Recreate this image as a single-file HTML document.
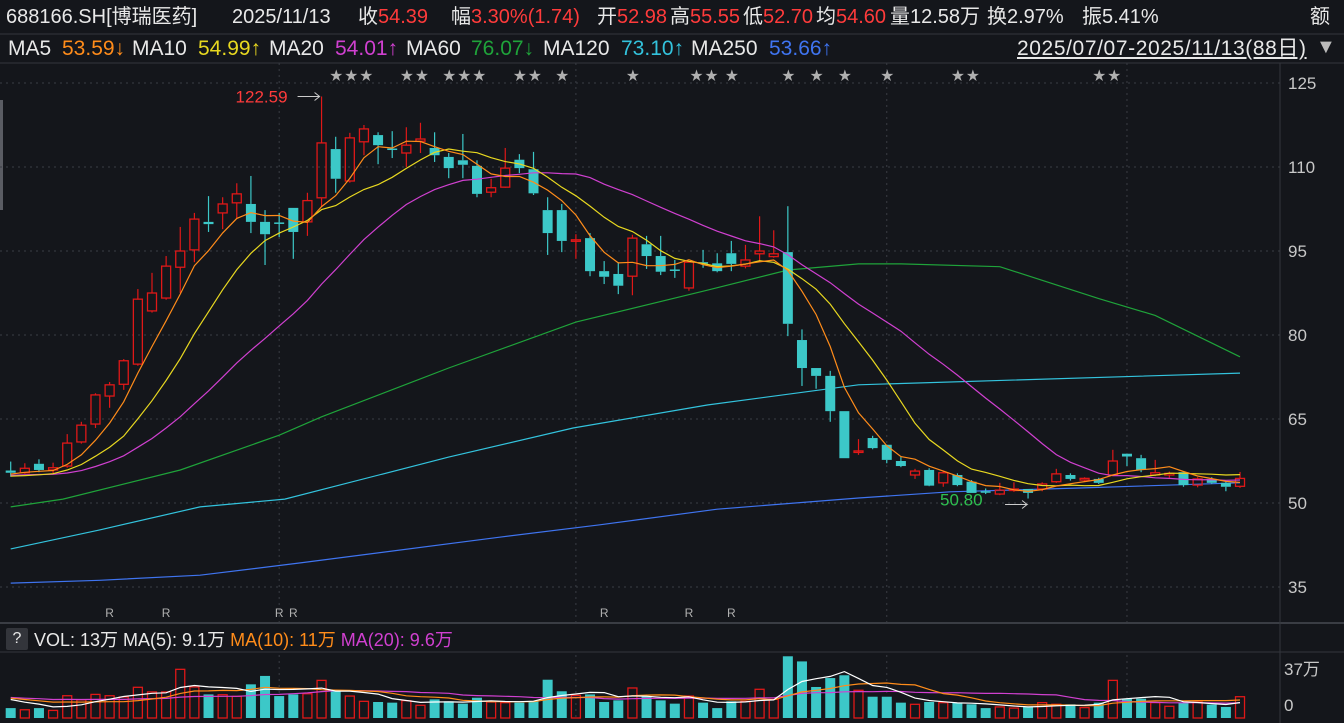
<!DOCTYPE html>
<html><head><meta charset="utf-8">
<style>
html,body{margin:0;padding:0;background:#14161b;overflow:hidden}
body{width:1344px;height:723px;position:relative;font-family:"Liberation Sans","Noto Sans CJK SC",sans-serif;color:#e8e8e8}
.t{position:absolute;white-space:nowrap;font-size:21px;line-height:22px}
.h{font-size:20px}
.r{color:#ff3b3b}
svg{position:absolute;left:0;top:0}
</style></head>
<body>
<svg id="chart" width="1344" height="723"></svg>
<div class="t h" style="left:6px;top:6px">688166.SH[博瑞医药]</div>
<div class="t h" style="left:232px;top:6px">2025/11/13</div>
<div class="t h" style="left:358px;top:6px">收<span class="r">54.39</span></div>
<div class="t h" style="left:451px;top:6px">幅<span class="r">3.30%(1.74)</span></div>
<div class="t h" style="left:597px;top:6px">开<span class="r">52.98</span></div>
<div class="t h" style="left:670px;top:6px">高<span class="r">55.55</span></div>
<div class="t h" style="left:743px;top:6px">低<span class="r">52.70</span></div>
<div class="t h" style="left:816px;top:6px">均<span class="r">54.60</span></div>
<div class="t h" style="left:890px;top:6px">量<span>12.58万</span></div>
<div class="t h" style="left:987px;top:6px">换<span>2.97%</span></div>
<div class="t h" style="left:1082px;top:6px">振<span>5.41%</span></div>
<div class="t h" style="left:1310px;top:6px">额</div>

<div class="t" style="left:8px;top:38px">MA5</div>
<div class="t" style="left:62px;top:38px;color:#ff8c1a">53.59↓</div>
<div class="t" style="left:132px;top:38px">MA10</div>
<div class="t" style="left:198px;top:38px;color:#e8d820">54.99↑</div>
<div class="t" style="left:269px;top:38px">MA20</div>
<div class="t" style="left:335px;top:38px;color:#d040d0">54.01↑</div>
<div class="t" style="left:406px;top:38px">MA60</div>
<div class="t" style="left:471px;top:38px;color:#1fa33a">76.07↓</div>
<div class="t" style="left:543px;top:38px">MA120</div>
<div class="t" style="left:621px;top:38px;color:#33c3dd">73.10↑</div>
<div class="t" style="left:691px;top:38px">MA250</div>
<div class="t" style="left:769px;top:38px;color:#3f74f0">53.66↑</div>
<div class="t" style="left:1017px;top:38px;font-size:21px;letter-spacing:0.6px;text-decoration:underline">2025/07/07-2025/11/13(88日)</div>
<div class="t" style="left:1316px;top:36px;font-size:20px;color:#bbb">▼</div>

<div class="t" style="left:6px;top:628px;width:22px;height:22px;background:#33353b;text-align:center;border-radius:2px;font-size:16px;line-height:22px">?</div>
<div class="t" style="left:34px;top:629px;font-size:18px">VOL: 13万 MA(5): 9.1万 <span style="color:#ff8c1a">MA(10): 11万</span> <span style="color:#d040d0">MA(20): 9.6万</span></div>

<script>
const opens  =[55.8,55.4,57.0,55.9,56.6,60.9,64.1,69.1,71.2,74.8,84.3,86.6,92.1,95.2,100.2,101.8,103.6,103.4,100.2,100.1,102.7,100.2,104.5,113.2,107.5,114.5,115.7,113.3,112.5,114.6,113.4,111.8,111.2,110.2,105.5,106.4,111.3,109.6,102.3,102.3,96.9,97.3,91.4,90.9,90.5,96.2,94.1,91.7,88.4,93.0,92.8,94.6,92.3,94.5,94.0,94.8,79.1,74.1,72.7,66.4,59.2,61.6,60.4,57.5,55.0,55.9,53.6,55.0,53.8,52.1,51.6,52.4,52.5,52.5,53.8,55.0,54.1,54.3,55.0,58.8,58.0,55.0,55.0,55.5,53.2,54.3,53.6,52.98];
const highs  =[57.4,57.1,57.8,57.2,62.3,64.5,69.6,71.6,75.7,88.2,91.1,94.1,99.3,101.8,104.8,104.6,107.1,108.4,102.3,101.8,102.7,105.4,122.59,115.4,116.1,117.5,116.2,116.4,117.1,117.9,116.2,112.5,115.9,111.2,107.9,113.4,112.3,112.7,104.6,103.4,98.0,98.2,93.2,93.0,97.9,97.7,97.7,93.4,93.0,95.2,94.6,96.8,96.1,101.2,98.7,103.0,81.0,74.1,73.6,66.4,61.4,62.0,60.4,58.2,56.1,56.2,55.8,55.3,54.1,52.6,53.6,53.7,52.5,53.7,56.1,55.3,54.6,54.5,59.5,58.8,58.6,57.7,55.6,55.7,54.6,54.6,53.8,55.55];
const lows   =[54.7,55.2,55.5,55.3,56.3,60.6,63.4,67.0,70.2,74.5,84.0,86.3,87.5,93.0,98.4,98.9,100.9,98.2,92.5,97.5,93.6,97.7,102.9,105.4,107.2,112.1,110.5,111.6,110.0,112.5,110.9,108.0,108.0,104.6,104.6,106.3,108.9,105.0,94.3,94.8,93.6,90.5,89.1,87.3,87.1,91.8,90.7,90.2,87.9,92.0,91.2,91.4,91.9,93.0,93.8,79.8,70.9,70.4,64.5,58.0,58.6,59.6,57.1,56.4,54.3,53.0,52.9,53.0,51.8,51.6,51.4,52.0,50.80,52.1,53.6,54.0,53.8,53.4,54.9,56.6,55.5,54.8,54.5,52.9,52.8,53.4,52.1,52.70];
const closes =[55.4,56.2,55.9,56.3,60.7,63.9,69.3,71.1,75.4,86.4,87.5,92.3,95.0,100.7,99.8,103.4,105.2,100.2,98.0,99.9,98.4,104.0,114.3,107.9,115.2,116.8,113.9,113.2,113.9,115.0,112.1,109.8,110.4,105.2,106.3,109.8,109.8,105.3,98.2,96.8,97.0,91.4,90.4,88.8,97.3,94.1,91.3,91.5,93.0,92.9,91.4,92.7,93.4,95.0,94.5,82.0,74.1,72.7,66.4,58.0,59.3,59.8,57.7,56.6,55.7,53.1,55.4,53.2,51.8,52.0,52.3,52.5,51.8,53.4,55.2,54.3,54.4,53.6,57.5,58.3,55.9,55.4,55.3,53.2,54.3,53.6,52.9,54.39];
const prevCloses=[54.2,54.8,55.5,56.0,55.3,54.6,54.0,54.4,55.8,56.2,55.0,54.6,54.3,54.1,54.0,54.6,55.0,55.6,55.2];
const volumes=[6,5,6,4.6,13.5,11,14.3,13.5,12.7,18.6,15.8,15.8,29.5,18.8,14.3,14.1,13.1,20.4,25.5,13.3,14.3,14.7,22.8,16.4,13.3,10.1,9.7,9.3,10.5,7.7,11.3,10.1,8.7,12.3,9.7,9.3,9.3,10.3,23.2,16.2,13.7,14.3,9.7,10.7,18.2,13.3,10.7,8.7,13.3,9.3,6,10.1,10.1,17.4,11.3,37.4,34.3,18.8,24.2,25.9,16.8,12.9,12.9,9.3,8.3,9.7,9.3,9.3,8.3,6,6.7,6,6.7,9.3,8.3,8.3,6.3,9.3,22.8,11.7,11.7,9.3,7.1,9.3,9.7,8.1,6.7,12.9];
const prevVols=[13,12,14,13,12,13,14,12,13,12,13,14,12,13,12,13,12,13,12];
const ma60Days=[0,3.7,12,19,22,31,40,49.3,55,60,63,70,77,81,87];
const ma60Vals=[49.3,50.7,55.9,62.1,65.4,74.1,82.3,88.0,91.6,92.7,92.7,92.2,86.5,83.5,76.1];
const ma120Days=[0,6.3,13.4,19.4,31,39.8,49.3,60,87];
const ma120Vals=[41.8,45.2,49.3,50.7,58.2,63.4,67.5,71.1,73.2];
const ma250Days=[0,6.3,13.4,20.5,34.6,41.7,50,60,66.5,75.9,87];
const ma250Vals=[35.7,36.2,37.1,39.3,43.9,46.1,48.9,50.9,52.0,52.7,53.6];
const priceTicks=[125,110,95,80,65,50,35];
const volTickLabels=['37万','0'];
const starMarks=[[23,'★★★'],[28,'★★'],[31,'★★★'],[36,'★★'],[39,'★'],[44,'★'],[48.5,'★★'],[51,'★'],[55,'★'],[57,'★'],[59,'★'],[62,'★'],[67,'★★'],[77,'★★']];
const rMarks=[7,11,19,20,42,48,51];

const NS='http://www.w3.org/2000/svg';
const svg=document.getElementById('chart');
const X0=10.7, STEP=14.13;
const xAt=i=>X0+i*STEP;
const yP=v=>83+(125-v)*5.6;
const VB=718, VS=1.65;
const yV=v=>VB-v*VS;
function mk(tag,attrs,parent){const e=document.createElementNS(NS,tag);for(const k in attrs)e.setAttribute(k,attrs[k]);(parent||svg).appendChild(e);return e;}

let e;
e=mk('line',{x1:0,y1:34,x2:1344,y2:34,stroke:'#33363d'});


e=mk('line',{x1:0,y1:63,x2:1344,y2:63,stroke:'#33363d'});


e=mk('line',{x1:0,y1:623,x2:1344,y2:623,stroke:'#3a3d44','stroke-width':2});


e=mk('line',{x1:0,y1:652,x2:1344,y2:652,stroke:'#33363d'});


e=mk('line',{x1:1280,y1:63,x2:1280,y2:723,stroke:'#33363d'});


e=mk('rect',{x:0,y:100,width:3,height:110,fill:'#5a5c63'});



priceTicks.forEach(v=>{
  const g=mk('line',{x1:0,x2:1280,y1:yP(v),y2:yP(v),stroke:'#3a3d44','stroke-dasharray':'2,4'});
  
  
  const t=mk('text',{x:1288,y:yP(v)+6,fill:'#c8c8c8','font-size':17});
  t.textContent=v;
  
  
});
[19,40,62,79].forEach(i=>{
  const g=mk('line',{x1:xAt(i),x2:xAt(i),y1:63,y2:622,stroke:'#3a3d44','stroke-dasharray':'2,4'});
  
  
  const g2=mk('line',{x1:xAt(i),x2:xAt(i),y1:655,y2:720,stroke:'#3a3d44','stroke-dasharray':'2,4'});
  
  
});

function ma(arr,prev,n){const all=prev.concat(arr);const off=prev.length;return arr.map((_,i)=>{let s=0;for(let k=0;k<n;k++)s+=all[off+i-k];return s/n;});}
function line(vals,yf,color,name,w){
  const p=vals.map((v,i)=>xAt(i).toFixed(1)+','+yf(v).toFixed(1)).join(' ');
  const l=mk('polyline',{points:p,fill:'none',stroke:color,'stroke-width':w||1.2});
  
  
}
function sparse(days,vals,color,name){
  const p=days.map((d,i)=>xAt(d).toFixed(1)+','+yP(vals[i]).toFixed(1)).join(' ');
  const l=mk('polyline',{points:p,fill:'none',stroke:color,'stroke-width':1.2});
  
  
}
sparse(ma250Days,ma250Vals,'#3f74f0','ma250-line');
sparse(ma120Days,ma120Vals,'#33c3dd','ma120-line');
sparse(ma60Days,ma60Vals,'#1fa33a','ma60-line');

const RED='#e01818', CY='#3cc8c8';
closes.forEach((c,i)=>{
  const o=opens[i],h=highs[i],l=lows[i],x=xAt(i);
  const up=c>=o, col=up?RED:CY;
  const g=mk('g',{});
  
  
  const top=yP(Math.max(o,c)), bot=yP(Math.min(o,c));
  mk('line',{x1:x,x2:x,y1:yP(h),y2:top,stroke:col,'stroke-width':1.2},g);
  mk('line',{x1:x,x2:x,y1:bot,y2:yP(l),stroke:col,'stroke-width':1.2},g);
  const bh=Math.max(bot-top,1.5);
  if(up) mk('rect',{x:x-4.5,y:top,width:9,height:bh,fill:'none',stroke:col,'stroke-width':1.3},g);
  else mk('rect',{x:x-5,y:top,width:10,height:bh,fill:col},g);
});
line(ma(closes,prevCloses,20),yP,'#d040d0','ma20-line');
line(ma(closes,prevCloses,10),yP,'#e8d820','ma10-line');
line(ma(closes,prevCloses,5),yP,'#ff8c1a','ma5-line');

const hiIdx=highs.indexOf(Math.max(...highs)), loIdx=lows.indexOf(Math.min(...lows));
e=mk('text',{x:xAt(hiIdx)-86,y:yP(highs[hiIdx])+6,fill:'#ff3b3b','font-size':17});
e.textContent=highs[hiIdx].toFixed(2);


e=mk('path',{d:`M${xAt(hiIdx)-24},${yP(highs[hiIdx])} h22 m-5,-4 l5,4 l-5,4`,stroke:'#ccc',fill:'none'});


e=mk('text',{x:xAt(loIdx)-88,y:yP(lows[loIdx])+7,fill:'#2ec050','font-size':17});
e.textContent=lows[loIdx].toFixed(2);


e=mk('path',{d:`M${xAt(loIdx)-23},${yP(lows[loIdx])+6} h22 l-5,-4 m5,4 l-5,4`,stroke:'#ccc',fill:'none'});



starMarks.forEach(s=>{
  const t=mk('text',{x:xAt(s[0])-6,y:80,fill:'#b0b0b0','font-size':13,'letter-spacing':'2'});
  t.textContent=s[1];
  
  
});
rMarks.forEach(i=>{
  const t=mk('text',{x:xAt(i),y:617,fill:'#b0b0b0','font-size':12,'text-anchor':'middle'});
  t.textContent='R';
  
  
});

volumes.forEach((v,i)=>{
  const up=closes[i]>=opens[i], x=xAt(i);
  const r=mk('rect',up?{x:x-4.5,y:yV(v),width:9,height:v*VS,fill:'none',stroke:RED,'stroke-width':1.3}:{x:x-5,y:yV(v),width:10,height:v*VS,fill:CY});
  
  
});
line(ma(volumes,prevVols,20),yV,'#d040d0','vol-ma20-line');
line(ma(volumes,prevVols,10),yV,'#ff8c1a','vol-ma10-line');
line(ma(volumes,prevVols,5),yV,'#ffffff','vol-ma5-line');
e=mk('text',{x:1284,y:675,fill:'#c8c8c8','font-size':17});
e.textContent=volTickLabels[0];


e=mk('text',{x:1284,y:711,fill:'#c8c8c8','font-size':17});
e.textContent=volTickLabels[1];


</script>
</body></html>
